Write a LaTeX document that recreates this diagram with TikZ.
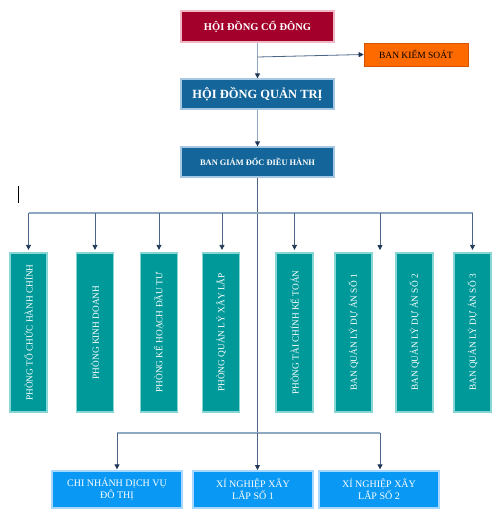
\documentclass[tikz,border=0pt]{standalone}
\usepackage{fontspec}
\setmainfont{Liberation Serif}
\usetikzlibrary{arrows.meta}
\definecolor{cred}{HTML}{A3002B}
\definecolor{credb}{HTML}{F0B8C4}
\definecolor{cblue}{HTML}{13659A}
\definecolor{cblueb}{HTML}{A6C8E2}
\definecolor{corange}{HTML}{FF6A00}
\definecolor{coranb}{HTML}{D35400}
\definecolor{cteal}{HTML}{00999A}
\definecolor{ctealb}{HTML}{86D6D6}
\definecolor{csky}{HTML}{0A98F5}
\definecolor{cskyb}{HTML}{A8D8FF}
\definecolor{ctrunk}{HTML}{8FA8C2}
\definecolor{cbranch}{HTML}{4C6487}
\definecolor{ctip}{HTML}{1F3657}
\tikzset{
  topbox/.style={rectangle, fill=cred, draw=credb, line width=1.3pt, minimum width=153pt, minimum height=31pt, text=white, font=\fontsize{10.5}{12}\selectfont\bfseries, inner sep=0pt},
  bluebox/.style={rectangle, fill=cblue, draw=cblueb, line width=1.3pt, minimum width=153pt, minimum height=30pt, text=white, inner sep=0pt},
  orbox/.style={rectangle, fill=corange, draw=coranb, line width=0.6pt, minimum width=104pt, minimum height=23pt, text=black, font=\fontsize{9.5}{11}\selectfont, inner sep=0pt},
  tealbox/.style={rectangle, fill=cteal, draw=ctealb, line width=1.3pt, minimum width=37pt, minimum height=159pt, inner sep=0pt},
  tealtext/.style={text=white, rotate=90, font=\fontsize{9.3}{11}\selectfont, inner sep=0pt},
  skybox/.style={rectangle, fill=csky, draw=cskyb, line width=1.3pt, minimum height=37pt, text=white, align=center, font=\fontsize{10}{12}\selectfont, inner sep=0pt},
  trunk/.style={draw=ctrunk, line width=1.2pt},
  branch/.style={draw=cbranch, line width=0.8pt},
  arr/.style={-{Triangle[length=5pt,width=5pt,color=ctip]}},
}
\begin{document}
\begin{tikzpicture}[x=1pt,y=-1pt]
\useasboundingbox (0,0) rectangle (500,528);
% stray cursor mark
\draw[black, line width=1pt] (18,186) -- (18,203);

\node[topbox] (hdcd) at (257.5,26.5) {HỘI ĐỒNG CỔ ĐÔNG};
\node[orbox] (bks) at (416,54.5) {BAN KIỂM SOÁT};
\node[bluebox, font=\fontsize{12.5}{14}\selectfont\bfseries] (hdqt) at (257.5,94) {HỘI ĐỒNG QUẢN TRỊ};
\node[bluebox, font=\fontsize{8.4}{10}\selectfont\bfseries] (bgd) at (257.5,162) {BAN GIÁM ĐỐC ĐIỀU HÀNH};

\foreach \n/\x/\t in {p1/28.5/PHÒNG TỔ CHỨC HÀNH CHÍNH, p2/95/PHÒNG KINH DOANH, p3/159/PHÒNG KẾ HOẠCH ĐẦU TƯ, p4/221/PHÒNG QUẢN LÝ XÂY LẮP, p5/294.5/PHÒNG TÀI CHÍNH KẾ TOÁN, p6/353.5/BAN QUẢN LÝ DỰ ÁN SỐ 1, p7/414.5/BAN QUẢN LÝ DỰ ÁN SỐ 2, p8/472.5/BAN QUẢN LÝ DỰ ÁN SỐ 3}{
  \node[tealbox] (\n) at (\x,332.5) {};
  \node[tealtext] at (\n.center) {\t};
}

\node[skybox, minimum width=130pt] (cn) at (117,489.5) {CHI NHÁNH DỊCH VỤ\\ĐÔ THỊ};
\node[skybox, minimum width=120pt] (xn1) at (253,489.5) {XÍ NGHIỆP XÂY\\LẮP SỐ 1};
\node[skybox, minimum width=120pt] (xn2) at (379,489.5) {XÍ NGHIỆP XÂY\\LẮP SỐ 2};

% coordinates
\coordinate (tk) at (257.5,57);
\coordinate (busL) at (28.5,213);
\coordinate (busR) at (472.5,213);
\coordinate (busM) at (257.5,213);
\coordinate (a6) at (380,250);
\coordinate (a6t) at (380,213);
\coordinate (bot) at (257.5,433);
\coordinate (botL) at (117,433);
\coordinate (botR) at (380,433);
\coordinate (xn1t) at (257.5,470);

% top connectors
\draw[trunk, arr] (hdcd.south) -- (hdqt.north);
\draw[branch, arr] (tk) -- (bks.west);
\draw[trunk, arr] (hdqt.south) -- (bgd.north);
\draw[branch] (bgd.south) -- (bot);
\draw[trunk] (busL) -- (busR);

\foreach \n/\x in {p1/28.5,p2/95,p3/159,p4/222,p5/294.5,p8/472.5}{
  \draw[branch, arr, shorten >=2.5pt] (\x,213) -- (\n.north -| \x,0);
}
\draw[branch, arr] (a6t) -- (a6);

% bottom connectors
\draw[trunk] (botL) -- (botR);
\draw[branch, arr, shorten >=1pt] (botL) -- (cn.north);
\draw[branch, arr] (bot) -- (xn1t);
\draw[branch, arr, shorten >=1pt] (botR) -- (xn2.north -| botR);
\end{tikzpicture}
\end{document}
